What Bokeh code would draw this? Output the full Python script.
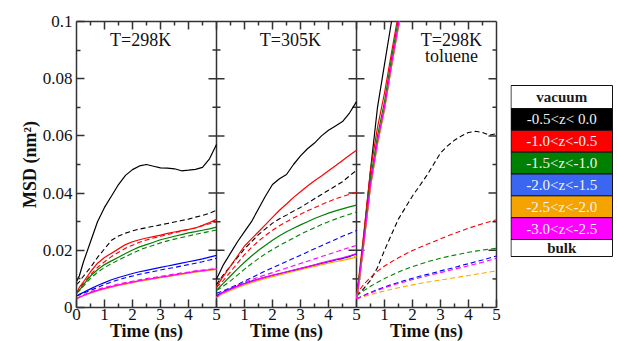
from bokeh.plotting import figure
from bokeh.models import Range1d, LinearAxis, FixedTicker, ColumnDataSource, Label
from bokeh.layouts import row
from bokeh.embed import file_html
from bokeh.resources import INLINE
from bokeh.core.properties import value

# ---------------- data ----------------
T = [0, 0.1, 0.25, 0.5, 0.75, 1.0, 1.25, 1.5, 1.75, 2.0, 2.25, 2.5, 2.75,
     3.0, 3.25, 3.5, 3.75, 4.0, 4.25, 4.5, 4.75, 5.0]
T3_SOLID = [0, 0.1, 0.25, 0.5, 0.75, 1.0, 1.25, 1.5, 1.75]

GROUP_LABELS = ["-0.5<z< 0.0", "-1.0<z<-0.5", "-1.5<z<-1.0",
                "-2.0<z<-1.5", "-2.5<z<-2.0", "-3.0<z<-2.5"]
PANEL_TITLES = [["T=298K"], ["T=305K"], ["T=298K", "toluene"]]
X_LABEL = "Time (ns)"
Y_LABEL = "MSD (nm²)"

# Panel 1: T=298K (solid = vacuum side, dashed = bulk side)
P1_SOLID_BLACK = [0.009, 0.011, 0.016, 0.023, 0.030, 0.035, 0.039, 0.043, 0.0462, 0.0482, 0.0495, 0.0500, 0.0494,
                  0.0488, 0.0487, 0.0485, 0.0478, 0.0480, 0.0483, 0.0490, 0.0520, 0.0570]
P1_DASH_BLACK = [0.008, 0.009, 0.011, 0.014, 0.0175, 0.0205, 0.0235, 0.0250, 0.0260, 0.0268, 0.0274, 0.0279, 0.0284,
                 0.0289, 0.0294, 0.0299, 0.0304, 0.0309, 0.0316, 0.0322, 0.0330, 0.0340]
P1_SOLID_RED = [0.005, 0.007, 0.009, 0.0125, 0.0155, 0.0175, 0.019, 0.0205, 0.022, 0.023, 0.0237, 0.0243, 0.0248,
                0.0253, 0.0259, 0.0264, 0.0269, 0.0273, 0.0278, 0.0287, 0.0297, 0.0308]
P1_DASH_RED = [0.005, 0.0065, 0.0085, 0.0115, 0.014, 0.016, 0.0178, 0.0193, 0.0207, 0.0218, 0.0228, 0.0236, 0.0243,
               0.0249, 0.0255, 0.0261, 0.0267, 0.0273, 0.0279, 0.0286, 0.0293, 0.0300]
P1_SOLID_GREEN = [0.005, 0.006, 0.008, 0.011, 0.0132, 0.015, 0.0163, 0.0176, 0.0189, 0.0201, 0.0212, 0.022, 0.0228,
                  0.0237, 0.0243, 0.0249, 0.0255, 0.0261, 0.0265, 0.027, 0.0275, 0.0281]
P1_DASH_GREEN = [0.005, 0.0058, 0.0075, 0.0102, 0.0123, 0.014, 0.0153, 0.0166, 0.0178, 0.019, 0.0201, 0.021, 0.0218,
                 0.0226, 0.0233, 0.0239, 0.0245, 0.025, 0.0256, 0.0261, 0.0266, 0.0271]
P1_SOLID_BLUE = [0.004, 0.0046, 0.0053, 0.0065, 0.0077, 0.0087, 0.0097, 0.0105, 0.0112, 0.0119, 0.0125, 0.013, 0.0135,
                 0.014, 0.0145, 0.015, 0.0155, 0.016, 0.0165, 0.017, 0.0176, 0.0182]
P1_DASH_BLUE = [0.004, 0.0044, 0.005, 0.006, 0.007, 0.008, 0.0089, 0.0097, 0.0104, 0.011, 0.0116, 0.0121, 0.0126,
                0.0131, 0.0136, 0.014, 0.0145, 0.015, 0.0155, 0.016, 0.0166, 0.0172]
P1_SOLID_ORANGE = [0.003, 0.0035, 0.0041, 0.005, 0.0058, 0.0065, 0.0071, 0.0077, 0.0082, 0.0087, 0.0092, 0.0096, 0.01,
                   0.0104, 0.0108, 0.0112, 0.0116, 0.012, 0.0124, 0.0127, 0.013, 0.0133]
P1_DASH_ORANGE = [0.003, 0.0035, 0.0042, 0.0051, 0.0059, 0.0066, 0.0072, 0.0078, 0.0083, 0.0088, 0.0093, 0.0097, 0.0101,
                  0.0105, 0.0109, 0.0113, 0.0117, 0.0121, 0.0125, 0.0128, 0.0131, 0.0134]
P1_SOLID_MAGENTA = [0.003, 0.0036, 0.0042, 0.0052, 0.006, 0.0067, 0.0073, 0.0079, 0.0084, 0.0089, 0.0094, 0.0098, 0.0102,
                    0.0106, 0.011, 0.0114, 0.0118, 0.0122, 0.0126, 0.0129, 0.0132, 0.0135]
P1_DASH_MAGENTA = [0.003, 0.0037, 0.0044, 0.0055, 0.0063, 0.007, 0.0076, 0.0082, 0.0087, 0.0092, 0.0097, 0.0101, 0.0105,
                   0.0109, 0.0113, 0.0117, 0.0121, 0.0124, 0.0128, 0.0131, 0.0134, 0.0137]

# Panel 2: T=305K
P2_SOLID_BLACK = [0.010, 0.012, 0.015, 0.019, 0.023, 0.0265, 0.030, 0.0345, 0.039, 0.043, 0.045, 0.0465, 0.050,
                  0.053, 0.0555, 0.0575, 0.060, 0.062, 0.0635, 0.065, 0.068, 0.072]
P2_DASH_BLACK = [0.008, 0.0095, 0.0115, 0.0145, 0.0175, 0.0205, 0.023, 0.0255, 0.0275, 0.0295, 0.031, 0.0323, 0.0337,
                 0.035, 0.0365, 0.038, 0.0395, 0.041, 0.0425, 0.0440, 0.0460, 0.048]
P2_SOLID_RED = [0.007, 0.0088, 0.011, 0.0145, 0.018, 0.0215, 0.024, 0.0265, 0.029, 0.0315, 0.034, 0.0362, 0.0385,
                0.0405, 0.0425, 0.0443, 0.046, 0.0478, 0.0496, 0.0514, 0.0532, 0.055]
P2_DASH_RED = [0.007, 0.008, 0.0095, 0.0125, 0.0155, 0.0185, 0.021, 0.0232, 0.0252, 0.027, 0.0286, 0.03, 0.0313,
               0.0326, 0.0338, 0.0349, 0.036, 0.037, 0.038, 0.0388, 0.0396, 0.0403]
P2_SOLID_GREEN = [0.006, 0.007, 0.0085, 0.011, 0.0135, 0.0158, 0.018, 0.020, 0.0218, 0.0235, 0.0251, 0.0265, 0.0277,
                  0.0289, 0.03, 0.0311, 0.0321, 0.033, 0.0338, 0.0345, 0.0352, 0.0358]
P2_DASH_GREEN = [0.006, 0.0065, 0.0075, 0.0093, 0.0113, 0.0134, 0.0153, 0.0171, 0.0188, 0.0203, 0.0217, 0.023, 0.0243,
                 0.0256, 0.0268, 0.0279, 0.029, 0.03, 0.0309, 0.0318, 0.0326, 0.0334]
P2_SOLID_BLUE = [0.004, 0.0047, 0.0054, 0.0065, 0.0075, 0.0084, 0.0092, 0.0099, 0.0106, 0.0112, 0.0118, 0.0124, 0.013,
                 0.0136, 0.0142, 0.0148, 0.0154, 0.016, 0.0166, 0.0172, 0.0179, 0.0187]
P2_DASH_BLUE = [0.005, 0.0053, 0.0059, 0.0069, 0.008, 0.0092, 0.0104, 0.0116, 0.0128, 0.0139, 0.015, 0.0161, 0.0172,
                0.0183, 0.0194, 0.0205, 0.0216, 0.0227, 0.0238, 0.0249, 0.0259, 0.0269]
P2_SOLID_ORANGE = [0.0035, 0.0042, 0.0049, 0.006, 0.007, 0.0079, 0.0087, 0.0095, 0.0102, 0.0108, 0.0114, 0.012, 0.0126,
                   0.0132, 0.0138, 0.0144, 0.015, 0.0155, 0.016, 0.0165, 0.017, 0.0176]
P2_DASH_ORANGE = [0.0035, 0.0043, 0.005, 0.0062, 0.0072, 0.0081, 0.0089, 0.0097, 0.0104, 0.011, 0.0116, 0.0122, 0.0128,
                  0.0134, 0.014, 0.0146, 0.0152, 0.0158, 0.0164, 0.017, 0.0175, 0.018]
P2_SOLID_MAGENTA = [0.0035, 0.0045, 0.0053, 0.0064, 0.0074, 0.0083, 0.0091, 0.0099, 0.0106, 0.0113, 0.0119, 0.0125, 0.0131,
                    0.0137, 0.0143, 0.0149, 0.0156, 0.0162, 0.0168, 0.0174, 0.0181, 0.0189]
P2_DASH_MAGENTA = [0.004, 0.0047, 0.0055, 0.0067, 0.0078, 0.0088, 0.0097, 0.0106, 0.0114, 0.0122, 0.013, 0.0138, 0.0146,
                   0.0154, 0.0162, 0.017, 0.0178, 0.0186, 0.0194, 0.0202, 0.021, 0.0217]

# Panel 3: T=298K toluene (solid curves leave the plotted range early)
P3_SOLID_BLACK = [0.005, 0.010, 0.024, 0.048, 0.070, 0.085, 0.100, 0.115, 0.130]
P3_SOLID_RED = [0.004, 0.012, 0.025, 0.048, 0.063, 0.075, 0.089, 0.103, 0.118]
P3_SOLID_GREEN = [0.004, 0.011, 0.023, 0.045, 0.060, 0.072, 0.087, 0.101, 0.116]
P3_SOLID_BLUE = [0.003, 0.0095, 0.0215, 0.0425, 0.0575, 0.0695, 0.0845, 0.0985, 0.1135]
P3_SOLID_ORANGE = [0.003, 0.009, 0.021, 0.042, 0.057, 0.069, 0.084, 0.098, 0.113]
P3_SOLID_MAGENTA = [0.003, 0.010, 0.022, 0.043, 0.058, 0.070, 0.085, 0.099, 0.114]
P3_DASH_BLACK = [0.004, 0.005, 0.0065, 0.0095, 0.014, 0.020, 0.0255, 0.031, 0.035, 0.039, 0.0425, 0.046, 0.050,
                 0.054, 0.0565, 0.0585, 0.0600, 0.0612, 0.0616, 0.0612, 0.0603, 0.0608]
P3_DASH_RED = [0.004, 0.006, 0.008, 0.0105, 0.0127, 0.0145, 0.016, 0.0174, 0.0187, 0.0199, 0.021, 0.022, 0.023,
               0.024, 0.025, 0.0259, 0.0268, 0.0277, 0.0285, 0.0293, 0.030, 0.0307]
P3_DASH_GREEN = [0.004, 0.0048, 0.0058, 0.0074, 0.0088, 0.0101, 0.0113, 0.0124, 0.0134, 0.0143, 0.0151, 0.0159, 0.0166,
                 0.0172, 0.0178, 0.0183, 0.0188, 0.0193, 0.0197, 0.0201, 0.0204, 0.0207]
P3_DASH_BLUE = [0.003, 0.0035, 0.0042, 0.0053, 0.0063, 0.0072, 0.008, 0.0088, 0.0095, 0.0102, 0.0109, 0.0115, 0.0121,
                0.0128, 0.0134, 0.014, 0.0147, 0.0153, 0.016, 0.0166, 0.0173, 0.018]
P3_DASH_ORANGE = [0.003, 0.0033, 0.0038, 0.0045, 0.0052, 0.0058, 0.0064, 0.0069, 0.0074, 0.0079, 0.0084, 0.0088, 0.0092,
                  0.0096, 0.01, 0.0104, 0.0108, 0.0112, 0.0116, 0.012, 0.0124, 0.0128]
P3_DASH_MAGENTA = [0.003, 0.0034, 0.0041, 0.0051, 0.006, 0.0069, 0.0077, 0.0084, 0.0091, 0.0098, 0.0104, 0.011, 0.0116,
                   0.0122, 0.0128, 0.0134, 0.014, 0.0146, 0.0152, 0.0158, 0.0165, 0.0172]

X_TICKS = [0, 1, 2, 3, 4, 5]
X_MINOR = [0.5, 1.5, 2.5, 3.5, 4.5]
Y_TICKS = [0, 0.02, 0.04, 0.06, 0.08, 0.1]
Y_TICK_LABELS = ["0", "0.02", "0.04", "0.06", "0.08", "0.1"]
Y_MINOR = [0.01, 0.03, 0.05, 0.07, 0.09]

LEGEND_LABELS = ["vacuum"] + GROUP_LABELS + ["bulk"]

# ---------------- styles ----------------
LINE_COLORS = ["#000000", "#ff0000", "#008000", "#0000ff", "#ffa500", "#ff00ff"]
LEGEND_FILLS = ["#ffffff", "#000000", "#ff0000", "#008000", "#3a66f2", "#f5a300", "#ff00ff", "#ffffff"]
LEGEND_TEXT = ["#1a1a1a"] + ["#f4f4f4"] * 6 + ["#1a1a1a"]
LEGEND_STYLE = ["bold"] + ["normal"] * 6 + ["bold"]
FONT = "Liberation Serif"
AX = "#333333"
TXT = "#111111"

PANELS = [
    (T, [P1_SOLID_BLACK, P1_SOLID_RED, P1_SOLID_GREEN, P1_SOLID_BLUE, P1_SOLID_ORANGE, P1_SOLID_MAGENTA],
     T, [P1_DASH_BLACK, P1_DASH_RED, P1_DASH_GREEN, P1_DASH_BLUE, P1_DASH_ORANGE, P1_DASH_MAGENTA]),
    (T, [P2_SOLID_BLACK, P2_SOLID_RED, P2_SOLID_GREEN, P2_SOLID_BLUE, P2_SOLID_ORANGE, P2_SOLID_MAGENTA],
     T, [P2_DASH_BLACK, P2_DASH_RED, P2_DASH_GREEN, P2_DASH_BLUE, P2_DASH_ORANGE, P2_DASH_MAGENTA]),
    (T3_SOLID, [P3_SOLID_BLACK, P3_SOLID_RED, P3_SOLID_GREEN, P3_SOLID_BLUE, P3_SOLID_ORANGE, P3_SOLID_MAGENTA],
     T, [P3_DASH_BLACK, P3_DASH_RED, P3_DASH_GREEN, P3_DASH_BLUE, P3_DASH_ORANGE, P3_DASH_MAGENTA]),
]
NP = len(PANELS)
SPAN = 5.0
Y_MAX = 0.1
XR = SPAN * NP

# ---------------- layout geometry (pixels) ----------------
FIG_W = 510
FIG_H = 341
LEG_W = 107
ORIGIN_X = 76          # canvas x of t = 0
TOP_Y = 21             # canvas y of MSD = 0.1
BOTTOM_Y = 307         # canvas y of MSD = 0
XTITLE_MID = 23        # px below MSD = 0 for the middle of "Time (ns)"
PX_X = 28.0            # pixels per ns
PX_Y = (BOTTOM_Y - TOP_Y) / Y_MAX
x_lo = -ORIGIN_X / PX_X
x_hi = x_lo + FIG_W / PX_X
y_lo = -(FIG_H - BOTTOM_Y) / PX_Y
y_hi = y_lo + FIG_H / PX_Y

# ---------------- main figure (frame covers whole canvas; axes pinned) ----------------
p = figure(width=FIG_W, height=FIG_H, x_range=Range1d(x_lo, x_hi), y_range=Range1d(y_lo, y_hi),
           output_backend="svg", toolbar_location=None,
           x_axis_location=None, y_axis_location=None, min_border=0)
p.grid.visible = False
p.outline_line_color = None
p.background_fill_color = "white"
p.border_fill_color = "white"

x_major = [t + SPAN * k for k in range(NP) for t in X_TICKS if not (k > 0 and t == 0)]
x_minor = [t + SPAN * k for k in range(NP) for t in X_MINOR]
x_over = {}
for k in range(NP):
    for t in X_TICKS:
        if k > 0 and t == 0:
            continue
        x_over[t + int(SPAN) * k] = str(t)
y_over = {v: s for v, s in zip(Y_TICKS, Y_TICK_LABELS)}


def style_axis(ax):
    ax.major_tick_in = 8
    ax.major_tick_out = 0
    ax.minor_tick_in = 4
    ax.minor_tick_out = 0
    ax.axis_line_color = AX
    ax.axis_line_width = 1.5
    ax.major_tick_line_color = AX
    ax.major_tick_line_width = 1.5
    ax.minor_tick_line_color = AX
    ax.minor_tick_line_width = 1.5
    ax.major_label_text_font = FONT
    ax.major_label_text_color = TXT
    ax.major_label_text_font_size = "17px"


xax = LinearAxis(ticker=FixedTicker(ticks=x_major, minor_ticks=x_minor), major_label_overrides=x_over,
                 fixed_location=0, bounds=(0, XR))
style_axis(xax)
xax.major_label_standoff = 1
p.add_layout(xax, "below")

yax = LinearAxis(ticker=FixedTicker(ticks=Y_TICKS, minor_ticks=Y_MINOR), major_label_overrides=y_over,
                 fixed_location=0, bounds=(0, Y_MAX))
style_axis(yax)
yax.major_label_standoff = 4
yax.axis_label = Y_LABEL
yax.axis_label_text_font = FONT
yax.axis_label_text_font_style = "bold"
yax.axis_label_text_font_size = "18px"
yax.axis_label_text_color = TXT
yax.axis_label_standoff = 0
p.add_layout(yax, "left")

# frame box: top edge, right edge, inner panel borders
p.segment(x0=[0], x1=[XR], y0=[Y_MAX], y1=[Y_MAX], line_color=AX, line_width=1.5)
borders = [SPAN * k for k in range(1, NP + 1)]
p.segment(x0=borders, x1=borders, y0=[0] * len(borders), y1=[Y_MAX] * len(borders),
          line_color=AX, line_width=1.5)

# mirrored inward ticks (top, right, and both sides of the inner panel borders)
dx_major = 8 / PX_X
dx_minor = 4 / PX_X
dy_major = 8 / PX_Y
dy_minor = 4 / PX_Y
inner_y_major = Y_TICKS[1:-1]
top_major = [x for x in x_major if 0 < x < XR]
p.segment(x0=top_major, x1=top_major, y0=[Y_MAX] * len(top_major),
          y1=[Y_MAX - dy_major] * len(top_major), line_color=AX, line_width=1.5)
p.segment(x0=x_minor, x1=x_minor, y0=[Y_MAX] * len(x_minor),
          y1=[Y_MAX - dy_minor] * len(x_minor), line_color=AX, line_width=1.5)
p.segment(x0=[XR] * len(inner_y_major), x1=[XR - dx_major] * len(inner_y_major),
          y0=inner_y_major, y1=inner_y_major, line_color=AX, line_width=1.5)
p.segment(x0=[XR] * len(Y_MINOR), x1=[XR - dx_minor] * len(Y_MINOR),
          y0=Y_MINOR, y1=Y_MINOR, line_color=AX, line_width=1.5)
for k in range(1, NP):
    s = SPAN * k
    p.segment(x0=[s - dx_major] * len(inner_y_major), x1=[s + dx_major] * len(inner_y_major),
              y0=inner_y_major, y1=inner_y_major, line_color=AX, line_width=1.5)
    p.segment(x0=[s - dx_minor] * len(Y_MINOR), x1=[s + dx_minor] * len(Y_MINOR),
              y0=Y_MINOR, y1=Y_MINOR, line_color=AX, line_width=1.5)

# curves; the steep toluene curves are cut at the top of the panel
for k, (ts, solids, td, dashes) in enumerate(PANELS):
    for col, ys in zip(LINE_COLORS, dashes):
        p.line([t + SPAN * k for t in td], ys, line_color=col, line_width=1.1, line_dash="5 3")
    for col, ys in zip(LINE_COLORS, solids):
        xs, yv = [], []
        for i, (t, y) in enumerate(zip(ts, ys)):
            if y <= Y_MAX:
                xs.append(t + SPAN * k)
                yv.append(y)
            else:
                t0, y0 = ts[i - 1], ys[i - 1]
                tc = t0 + (Y_MAX - y0) * (t - t0) / (y - y0)
                xs.append(tc + SPAN * k)
                yv.append(Y_MAX)
                break
        p.line(xs, yv, line_color=col, line_width=1.2)

# panel titles
title_pos = [(2.29, [0.0935]), (2.64, [0.0935]), (3.39, [0.0935, 0.0878])]
for k, (lines, (tx, tys)) in enumerate(zip(PANEL_TITLES, title_pos)):
    for txt, ty in zip(lines, tys):
        p.add_layout(Label(x=tx + SPAN * k, y=ty, text=txt, text_align="center", text_baseline="middle",
                           text_font=FONT, text_font_size="18px", text_color=TXT))

# x titles under each panel
centers = [SPAN * k + SPAN / 2 for k in range(NP)]
p.text(x=centers, y=[-XTITLE_MID / PX_Y] * NP, text=[X_LABEL] * NP, text_align="center",
       text_baseline="middle", text_font=value(FONT), text_font_style="bold",
       text_font_size="18px", text_color=TXT)

# ---------------- legend figure ----------------
leg = figure(width=LEG_W, height=FIG_H, x_range=Range1d(0, LEG_W), y_range=Range1d(FIG_H, 0),
             output_backend="svg", toolbar_location=None,
             x_axis_location=None, y_axis_location=None, min_border=0)
leg.grid.visible = False
leg.outline_line_color = None
leg.background_fill_color = "white"
leg.border_fill_color = "white"

heights = [23] + [131 / len(GROUP_LABELS)] * len(GROUP_LABELS) + [17]
tops, bottoms = [], []
cur = 85.0
for h in heights:
    tops.append(cur)
    bottoms.append(cur + h)
    cur += h
src = ColumnDataSource(dict(top=tops, bottom=bottoms, fill=LEGEND_FILLS,
                            yc=[(a + b) / 2 for a, b in zip(tops, bottoms)],
                            label=LEGEND_LABELS, tc=LEGEND_TEXT, st=LEGEND_STYLE))
leg.quad(left=0.5, right=102, top="top", bottom="bottom", fill_color="fill",
         line_color="#111111", line_width=1, source=src)
leg.text(x=51.25, y="yc", text="label", text_color="tc", text_font_style="st",
         text_font=value(FONT), text_font_size="15px", text_align="center",
         text_baseline="middle", source=src)

layout = row(p, leg)
open("out.html", "w").write(file_html(layout, INLINE))
